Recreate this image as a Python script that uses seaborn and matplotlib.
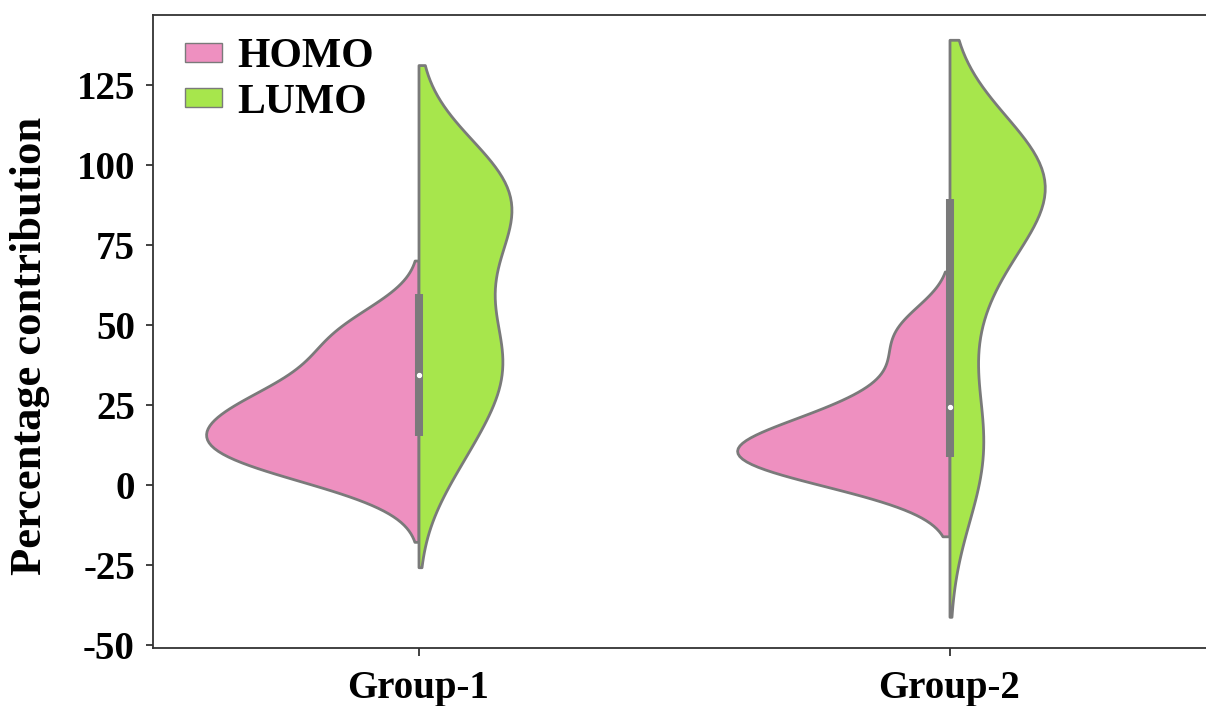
import numpy as np
import pandas as pd
import seaborn as sns
import matplotlib.pyplot as plt
from matplotlib.patches import Patch

groups = ["Group-1", "Group-2"]
orbitals = ["HOMO", "LUMO"]

# percentage contributions per structure
homo_g1 = [-1.0, 6.3, 6.5, 8.1, 8.2, 11.6, 12.5, 14.9, 18.8, 19.6,
           22.0, 22.2, 25.0, 28.9, 30.7, 34.1, 41.3, 43.3, 48.4, 53.4]
lumo_g1 = [8.2, 11.9, 15.3, 33.6, 34.4, 35.1, 38.8, 40.2, 43.1, 57.9,
           65.7, 71.2, 76.0, 85.8, 89.7, 91.2, 93.1, 95.8, 96.6, 97.4]
homo_g2 = [0.5, 0.9, 4.2, 7.6, 8.0, 8.3, 8.6, 8.9, 12.7, 13.0,
           13.2, 13.8, 19.5, 23.6, 24.1, 24.5, 35.6, 40.7, 49.5, 50.2]
lumo_g2 = [-1.0, 6.2, 6.8, 23.8, 24.4, 63.9, 64.3, 64.8, 86.6, 87.4,
           95.0, 95.8, 96.5, 97.0, 97.4, 97.8, 98.1, 98.4, 98.7, 99.0]

yticks = [-50, -25, 0, 25, 50, 75, 100, 125]

colors = {"HOMO": "#EE90C0", "LUMO": "#A7E64C"}
edge = "#7A7A7A"

data = {("Group-1", "HOMO"): homo_g1, ("Group-1", "LUMO"): lumo_g1,
        ("Group-2", "HOMO"): homo_g2, ("Group-2", "LUMO"): lumo_g2}
rows = [(g, o, v) for (g, o), vals in data.items() for v in vals]
df = pd.DataFrame(rows, columns=["group", "orbital", "value"])

sns.set_style("white")
plt.rcParams["font.family"] = ["Liberation Serif", "DejaVu Serif"]
plt.rcParams["font.weight"] = "bold"
plt.rcParams["text.color"] = "black"
plt.rcParams["axes.labelcolor"] = "black"
plt.rcParams["xtick.color"] = "black"
plt.rcParams["ytick.color"] = "black"

fig = plt.figure(figsize=(12.06, 7.06), dpi=100)
ax = fig.add_axes([153 / 1206, 1 - 648 / 706, 1062 / 1206, 633 / 706])

# one call per group so each group is scaled to its own widest half
for g in groups:
    sns.violinplot(data=df[df.group == g], x="group", y="value", hue="orbital",
                   order=groups, hue_order=orbitals, split=True, inner=None,
                   palette=colors, saturation=1, linecolor=edge, linewidth=2,
                   common_norm=True, density_norm="area", legend=False, ax=ax)

# combined box (quartiles) with median dot
for i, g in enumerate(groups):
    comb = df.loc[df.group == g, "value"]
    q1, med, q3 = np.percentile(comb, [25, 50, 75])
    ax.vlines(i, q1, q3, color=edge, lw=5.8, zorder=4)
    ax.scatter([i], [med], color="white", s=8, zorder=5)

ax.set_xlim(-0.5, 1.5)
ax.set_ylim(-51, 147)
ax.set_yticks(yticks)
ax.set_yticklabels([str(v) for v in yticks])
ax.tick_params(axis="both", labelsize=28, left=True, bottom=True, length=5, width=1.3,
               color="#333333")
ax.tick_params(axis="y", pad=8)
ax.tick_params(axis="x", pad=10, length=6)
for s in ax.spines.values():
    s.set_color("#333333")
    s.set_linewidth(1.3)

ax.set_xlabel("")
ax.set_ylabel("Percentage contribution", fontsize=32, fontweight="bold")
ax.yaxis.set_label_coords(-0.097, 0.477)

handles = [Patch(facecolor=colors[o], edgecolor=edge, label=o) for o in orbitals]
ax.legend(handles=handles, loc="upper left", bbox_to_anchor=(0.03, 0.963), frameon=False,
          borderpad=0, borderaxespad=0, handlelength=0.9, handleheight=0.32,
          handletextpad=0.36, labelspacing=0.17, prop={"size": 30, "weight": "bold"})

fig.savefig("out.png", dpi=100)
